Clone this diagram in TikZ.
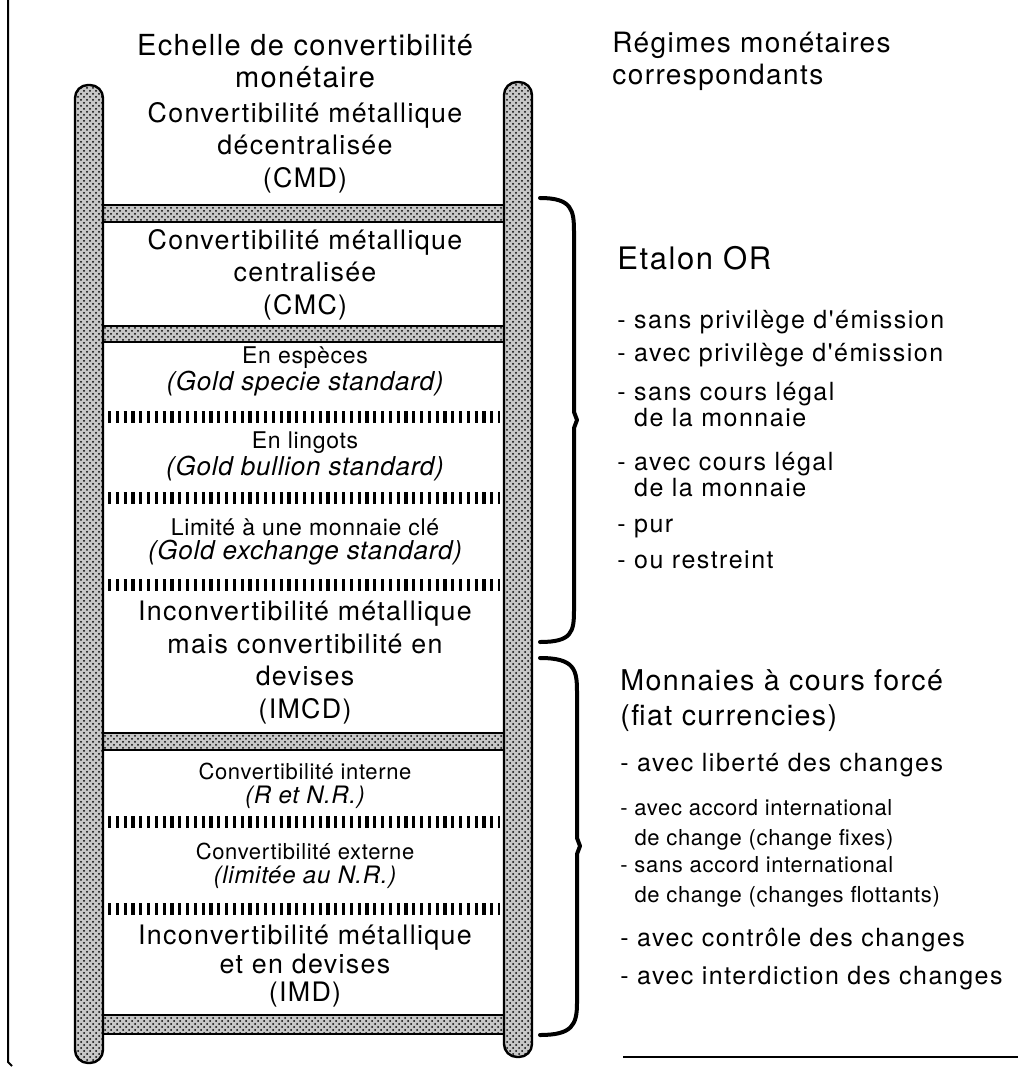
\documentclass[tikz,border=0pt]{standalone}
\usepackage{fontspec}
\setmainfont{TeX Gyre Heros}
\newfontfamily\ladfont[LetterSpace=5]{TeX Gyre Heros}
\newfontfamily\regfont[LetterSpace=6]{TeX Gyre Heros}
\newfontfamily\thinfont[LetterSpace=3]{TeX Gyre Heros}
\usetikzlibrary{patterns,positioning}

\tikzset{
  railbar/.style={draw,line width=1.2pt,rounded corners=6.5pt,preaction={fill=black!22},pattern=crosshatch dots},
  rungbar/.style={draw,line width=1pt,preaction={fill=black!22},pattern=crosshatch dots},
  tickrow/.style={line width=6pt,dash pattern=on 1.6pt off 2.3pt},
  bigtxt/.style={font=\ladfont\fontsize{13.4}{16.25}\selectfont,align=center,inner sep=0pt},
  twotxt/.style={align=center,inner sep=0pt},
  headtxt/.style={font=\ladfont\fontsize{14}{16}\selectfont,align=left,anchor=west,inner sep=0pt},
  itemtxt/.style={font=\regfont\fontsize{12.5}{13}\selectfont,align=left,anchor=west,inner sep=0pt},
  smallitem/.style={font=\thinfont\fontsize{11}{15}\selectfont,align=left,anchor=west,inner sep=0pt},
  brc/.style={line width=2pt,line cap=round,line join=round},
}
% gold rows and lower rows of the ladder
\newcommand{\goldtx}[2]{{\thinfont\fontsize{11.5}{14.5}\selectfont #1}\\{\thinfont\itshape\fontsize{13}{14.5}\selectfont #2}}
\newcommand{\lowtx}[2]{{\thinfont\fontsize{11}{14}\selectfont #1}\\{\thinfont\itshape\fontsize{12}{14}\selectfont #2}}

\begin{document}
\begin{tikzpicture}[x=0.5pt,y=-0.5pt]
  \useasboundingbox (0,0) rectangle (1018,1069);
  % frame
  \draw[line width=1pt] (8,0) -- (8,1062) -- (12,1066);
  \draw[line width=1pt] (623,1057) -- (1018,1057);

  % headings
  \node[bigtxt,font=\ladfont\fontsize{14.5}{16}\selectfont] (echelle) at (305,61) {Echelle de convertibilité\\monétaire};
  \node[headtxt] (regimes) at (612,61) {Régimes monétaires\\correspondants};

  % rungs of the ladder
  \draw[rungbar] (103,205) rectangle (504,222);
  \draw[rungbar] (103,326) rectangle (504,342);
  \draw[rungbar] (103,733) rectangle (504,750);
  \draw[rungbar] (103,1015) rectangle (504,1034);
  \foreach \yy in {417,498,585,822,909}
    \draw[tickrow] (108,\yy) -- (500,\yy);

  % rails
  \draw[railbar] (75,1063) -- (75,85) -- (103,85) -- (103,1063) -- cycle;
  \draw[railbar] (504,1057) -- (504,82) -- (532,82) -- (532,1057) -- cycle;

  % ladder steps
  \node[bigtxt] (cmd) at (305,147.5) {Convertibilité métallique\\décentralisée\\(CMD)};
  \node[bigtxt] (cmc) at (305,274.5) {Convertibilité métallique\\centralisée\\(CMC)};
  \node[twotxt] (especes) at (305,371.5) {\goldtx{En espèces}{(Gold specie standard)}};
  \node[twotxt] (lingots) at (305,456.5) {\goldtx{En lingots}{(Gold bullion standard)}};
  \node[twotxt] (cle) at (305,542) {\goldtx{Limité à une monnaie clé}{(Gold exchange standard)}};
  \node[bigtxt] (imcd) at (305,662.75) {Inconvertibilité métallique\\mais convertibilité en\\devises\\(IMCD)};
  \node[twotxt] (interne) at (305,786) {\lowtx{Convertibilité interne}{(R et N.R.)}};
  \node[twotxt] (externe) at (305,866) {\lowtx{Convertibilité externe}{(limitée au N.R.)}};
  \node[bigtxt,font=\ladfont\fontsize{13.4}{14.25}\selectfont] (imd) at (305,966.5) {Inconvertibilité métallique\\et en devises\\(IMD)};

  % braces
  \draw[brc] (540,198) .. controls (572,198) and (574,210) .. (574,232) -- (574,412)
    -- (577,420) -- (574,428) -- (574,610) .. controls (574,632) and (572,642) .. (540,642);
  \draw[brc] (540,658) .. controls (575,658) and (577,670) .. (577,692) -- (577,838)
    -- (580,846) -- (577,854) -- (577,1003) .. controls (577,1025) and (572,1035) .. (540,1035);

  % gold standard
  \node[headtxt,font=\ladfont\fontsize{15.5}{16}\selectfont] (etalon) at (617,258) {Etalon OR};
  \node[itemtxt] (ea) at (617,322) {- sans privilège d'émission};
  \node[itemtxt] (eb) at (617,355) {- avec privilège d'émission};
  \node[itemtxt] (ec) at (617,405) {- sans cours légal\\\hphantom{- }de la monnaie};
  \node[itemtxt] (ed) at (617,475) {- avec cours légal\\\hphantom{- }de la monnaie};
  \node[itemtxt] (ee) at (617,528) {- pur};
  \node[itemtxt] (ef) at (617,560) {- ou restreint};

  % fiat currencies
  \node[headtxt,font=\ladfont\fontsize{14.3}{17.5}\selectfont] (fiat) at (620,700.5) {Monnaies à cours forcé\\(fiat currencies)};
  \node[itemtxt] (fa) at (620,765) {- avec liberté des changes};
  \node[smallitem] (fb) at (620,825) {- avec accord international\\\hphantom{- }de change (change fixes)};
  \node[smallitem] (fc) at (620,882) {- sans accord international\\\hphantom{- }de change (changes flottants)};
  \node[itemtxt] (fd) at (620,940) {- avec contrôle des changes};
  \node[itemtxt] (fe) at (620,978) {- avec interdiction des changes};
\end{tikzpicture}
\end{document}
